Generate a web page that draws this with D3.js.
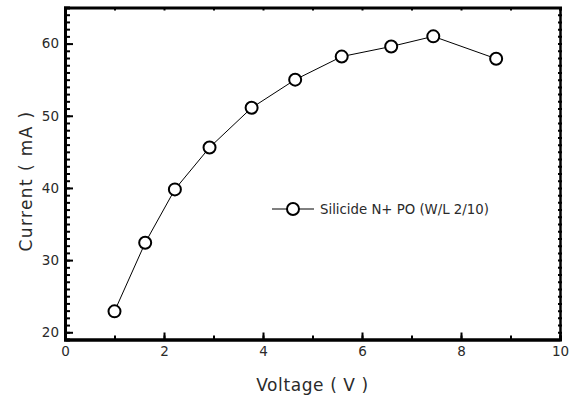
<!DOCTYPE html>
<html>
<head>
<meta charset="utf-8">
<script src="https://cdn.jsdelivr.net/npm/d3@7"></script>
<style>
  html, body { margin: 0; padding: 0; background: #fff; }
  svg { display: block; }
  text { font-family: "DejaVu Sans", sans-serif; fill: #2a2a2a; }
</style>
</head>
<body>
<svg id="chart" width="581" height="400"></svg>
<script>
// Data
const voltage = [1.0, 1.62, 2.22, 2.92, 3.77, 4.65, 5.59, 6.59, 7.44, 8.71];
const current = [22.9, 32.4, 39.8, 45.6, 51.1, 55.0, 58.2, 59.6, 61.0, 57.9];
const seriesName = "Silicide N+ PO (W/L 2/10)";
const xTicks = [0, 2, 4, 6, 8, 10];
const yTicks = [20, 30, 40, 50, 60];
const xTitle = "Voltage ( V )";
const yTitle = "Current ( mA )";

const svg = d3.select("#chart");
const L = 65, R = 560, T = 7.5, B = 339.5;

const x = d3.scaleLinear().domain([0, 10]).range([L, R]);
const y = d3.scaleLinear().domain([19, 65]).range([B, T]);

const xMinor = d3.range(0, 11, 1);
const yMinor = d3.range(19, 66, 1);

function styleAxis(g, w) {
  g.select(".domain").attr("stroke", "#000").attr("stroke-width", w);
  g.selectAll(".tick line").attr("stroke", "#000").attr("stroke-width", 2);
  g.selectAll(".tick text").style("font-size", "13.5px").attr("fill", "#2a2a2a");
}

// Bottom minor ticks
svg.append("g").attr("transform", `translate(0,${B})`)
  .call(d3.axisBottom(x).tickValues(xMinor).tickSize(-4).tickFormat(""))
  .call(g => styleAxis(g, 3));
// Bottom major
svg.append("g").attr("transform", `translate(0,${B})`)
  .call(d3.axisBottom(x).tickValues(xTicks).tickSizeInner(-7).tickSizeOuter(0).tickPadding(7).tickFormat(d3.format("d")))
  .call(g => styleAxis(g, 3));

// Top ticks
svg.append("g").attr("transform", `translate(0,${T})`)
  .call(d3.axisTop(x).tickValues(xMinor).tickSize(-3).tickFormat(""))
  .call(g => styleAxis(g, 3));

// Left minor
svg.append("g").attr("transform", `translate(${L},0)`)
  .call(d3.axisLeft(y).tickValues(yMinor).tickSize(-5).tickFormat(""))
  .call(g => styleAxis(g, 3));
// Left major
svg.append("g").attr("transform", `translate(${L},0)`)
  .call(d3.axisLeft(y).tickValues(yTicks).tickSizeInner(-8).tickSizeOuter(0).tickPadding(6).tickFormat(d3.format("d")))
  .call(g => styleAxis(g, 3));

// Right ticks
svg.append("g").attr("transform", `translate(${R},0)`)
  .call(d3.axisRight(y).tickValues(yMinor).tickSize(2).tickFormat(""))
  .call(g => styleAxis(g, 2));
svg.append("g").attr("transform", `translate(${R},0)`)
  .call(d3.axisRight(y).tickValues(yMinor).tickSize(-2).tickFormat(""))
  .call(g => styleAxis(g, 2));

// Line
const pts = voltage.map((v, i) => [v, current[i]]);
svg.append("path")
  .datum(pts)
  .attr("fill", "none")
  .attr("stroke", "#000")
  .attr("stroke-width", 1)
  .attr("d", d3.line().x(d => x(d[0])).y(d => y(d[1])));

svg.selectAll("circle.pt").data(pts).enter().append("circle")
  .attr("class", "pt")
  .attr("cx", d => x(d[0])).attr("cy", d => y(d[1]))
  .attr("r", 6)
  .attr("fill", "#fff").attr("stroke", "#000").attr("stroke-width", 2);

// Legend
const lg = svg.append("g");
lg.append("line").attr("x1", 272).attr("x2", 314).attr("y1", 209).attr("y2", 209)
  .attr("stroke", "#000").attr("stroke-width", 1);
lg.append("circle").attr("cx", 293).attr("cy", 209).attr("r", 6)
  .attr("fill", "#fff").attr("stroke", "#000").attr("stroke-width", 2);
lg.append("text").attr("x", 320).attr("y", 214).style("font-size", "13.3px").text(seriesName);

// Titles
svg.append("text").attr("x", (L + R) / 2).attr("y", 391).attr("text-anchor", "middle")
  .style("font-size", "17px").style("letter-spacing", "0.6px").text(xTitle);
svg.append("text").attr("transform", `translate(32,181) rotate(-90)`)
  .attr("text-anchor", "middle").style("font-size", "17px").style("letter-spacing", "1.4px").text(yTitle);
</script>
</body>
</html>
